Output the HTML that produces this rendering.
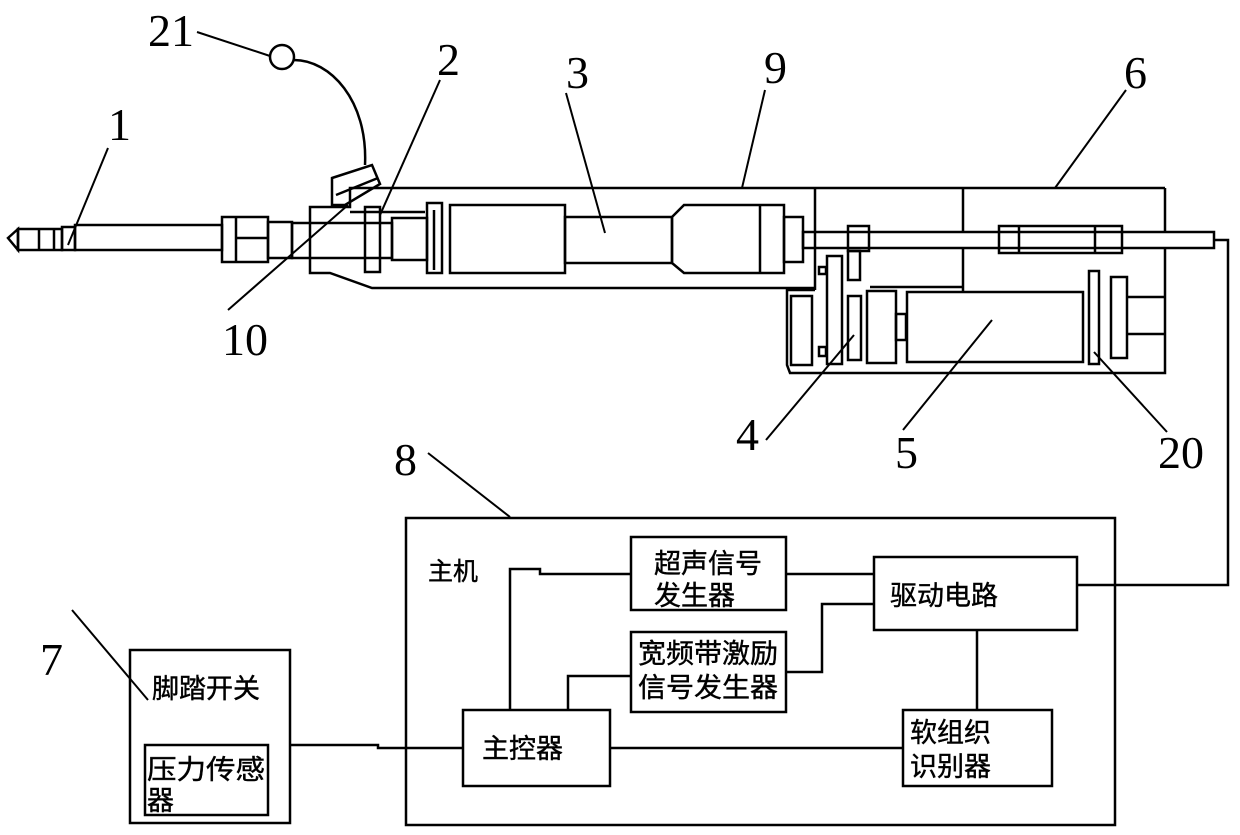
<!DOCTYPE html>
<html><head><meta charset="utf-8"><style>
html,body{margin:0;padding:0;background:#fff}
svg{display:block}
.n{font-family:"Liberation Serif",serif;font-size:46px;fill:#000}
.c{font-family:"Liberation Sans","Noto Sans CJK SC",sans-serif;font-size:27px;fill:#000;stroke:#000;stroke-width:0.4}
</style></head><body>
<svg width="1240" height="835" viewBox="0 0 1240 835" xmlns="http://www.w3.org/2000/svg">
<g fill="none" stroke="#000" stroke-width="2.5">
<polygon points="8,238 18,229 18,250"/>
<rect x="18" y="229" width="44" height="21"/>
<line x1="39" y1="229" x2="39" y2="250"/><line x1="54" y1="229" x2="54" y2="250"/>
<rect x="62" y="227" width="13" height="23"/>
<rect x="75" y="225" width="147" height="25"/>
<rect x="222" y="217" width="46" height="45"/>
<line x1="236" y1="217" x2="236" y2="262"/><line x1="236" y1="238" x2="268" y2="238"/>
<rect x="268" y="222" width="24" height="36"/>
<rect x="292" y="223" width="100" height="35"/>
<polyline points="372,188 350,188 350,207 310,207 310,273 330,273 372,288 815,288"/>
<polyline points="350,212 425,212"/>
<polygon points="332,178 372,165 380,184 345,205 332,205"/>
<line x1="336" y1="195" x2="378" y2="178"/>
<rect x="365" y="207" width="15" height="65"/>
<rect x="392" y="218" width="35" height="42"/>
<rect x="427" y="203" width="15" height="70"/><line x1="434" y1="210" x2="434" y2="270"/>
<line x1="372" y1="188" x2="1165" y2="188"/>
<rect x="450" y="205" width="115" height="68"/>
<rect x="565" y="217" width="107" height="46"/>
<polygon points="672,217 684,205 784,205 784,273 684,273 672,263"/>
<line x1="760" y1="205" x2="760" y2="273"/>
<rect x="784" y="217" width="19" height="45"/>
<rect x="803" y="232" width="411" height="16"/>
<rect x="848" y="226" width="21" height="25"/>
<rect x="848" y="251" width="12" height="29"/>
<rect x="999" y="226" width="123" height="27"/>
<line x1="1019" y1="226" x2="1019" y2="253"/><line x1="1095" y1="226" x2="1095" y2="253"/>
<line x1="815" y1="188" x2="815" y2="290"/>
<line x1="963" y1="188" x2="963" y2="232"/><line x1="963" y1="248" x2="963" y2="293"/>
<line x1="870" y1="287" x2="963" y2="287"/>
<line x1="1165" y1="188" x2="1165" y2="232"/>
<polyline points="1165,248 1165,373 790,373 787,365 787,290 815,290"/>
<rect x="791" y="296" width="21" height="69"/>
<rect x="827" y="256" width="15" height="108"/>
<rect x="819" y="267" width="7" height="7"/><rect x="819" y="347" width="7" height="9"/>
<rect x="848" y="296" width="13" height="64"/>
<rect x="867" y="291" width="29" height="72"/>
<rect x="896" y="314" width="10" height="26"/>
<rect x="907" y="292" width="176" height="70"/>
<rect x="1089" y="271" width="10" height="93"/>
<rect x="1111" y="277" width="16" height="81"/>
<line x1="1127" y1="297" x2="1165" y2="297"/><line x1="1127" y1="334" x2="1165" y2="334"/>
<circle cx="282" cy="57" r="12"/>
<path d="M294,60 C330,60 368,100 365,165"/>
</g>
<g stroke="#000" stroke-width="2" fill="none">
<line x1="197" y1="32" x2="270" y2="56"/>
<line x1="108" y1="148" x2="68" y2="245"/>
<line x1="440" y1="80" x2="380" y2="215"/>
<line x1="228" y1="310" x2="348" y2="205"/>
<line x1="566" y1="93" x2="605" y2="233"/>
<line x1="765" y1="90" x2="742" y2="188"/>
<line x1="1126" y1="90" x2="1055" y2="188"/>
<line x1="766" y1="440" x2="854" y2="335"/>
<line x1="903" y1="430" x2="992" y2="320"/>
<line x1="1167" y1="432" x2="1094" y2="352"/>
<line x1="428" y1="453" x2="510" y2="517"/>
<line x1="72" y1="610" x2="148" y2="700"/>
</g>
<g class="n">
<text x="148" y="46">21</text><text x="108" y="140">1</text><text x="437" y="75">2</text>
<text x="222" y="355">10</text><text x="566" y="88">3</text><text x="764" y="83">9</text>
<text x="1124" y="88">6</text><text x="736" y="450">4</text><text x="895" y="468">5</text>
<text x="1158" y="468">20</text><text x="394" y="475">8</text><text x="40" y="675">7</text>
</g>
<g fill="none" stroke="#000" stroke-width="2.5">
<rect x="406" y="518" width="709" height="307"/>
<rect x="631" y="537" width="155" height="73"/>
<rect x="874" y="557" width="203" height="73"/>
<rect x="631" y="632" width="155" height="80"/>
<rect x="463" y="710" width="147" height="76"/>
<rect x="903" y="710" width="149" height="76"/>
<rect x="130" y="650" width="160" height="173"/>
<rect x="145" y="745" width="123" height="70"/>
<polyline points="510,710 510,569 540,569 540,574 631,574"/>
<line x1="786" y1="574" x2="874" y2="574"/>
<polyline points="786,672 822,672 822,604 874,604"/>
<polyline points="568,710 568,676 631,676"/>
<line x1="977" y1="630" x2="977" y2="710"/>
<line x1="610" y1="748" x2="903" y2="748"/>
<polyline points="290,745 378,745 378,748 463,748"/>
<polyline points="1077,585 1228,585 1228,240 1214,240"/>
</g>
<g class="c">
<text x="428" y="580" font-size="25">主机</text>
<text x="654" y="573">超声信号</text><text x="654" y="605">发生器</text>
<text x="890" y="605">驱动电路</text>
<text x="638" y="663" textLength="140" lengthAdjust="spacingAndGlyphs">宽频带激励</text><text x="638" y="697" textLength="140" lengthAdjust="spacingAndGlyphs">信号发生器</text>
<text x="482" y="758">主控器</text>
<text x="910" y="742">软组织</text><text x="910" y="776">识别器</text>
<text x="152" y="698">脚踏开关</text>
<text x="147" y="779" textLength="118" lengthAdjust="spacingAndGlyphs">压力传感</text><text x="147" y="810">器</text>
</g>
</svg>
</body></html>
